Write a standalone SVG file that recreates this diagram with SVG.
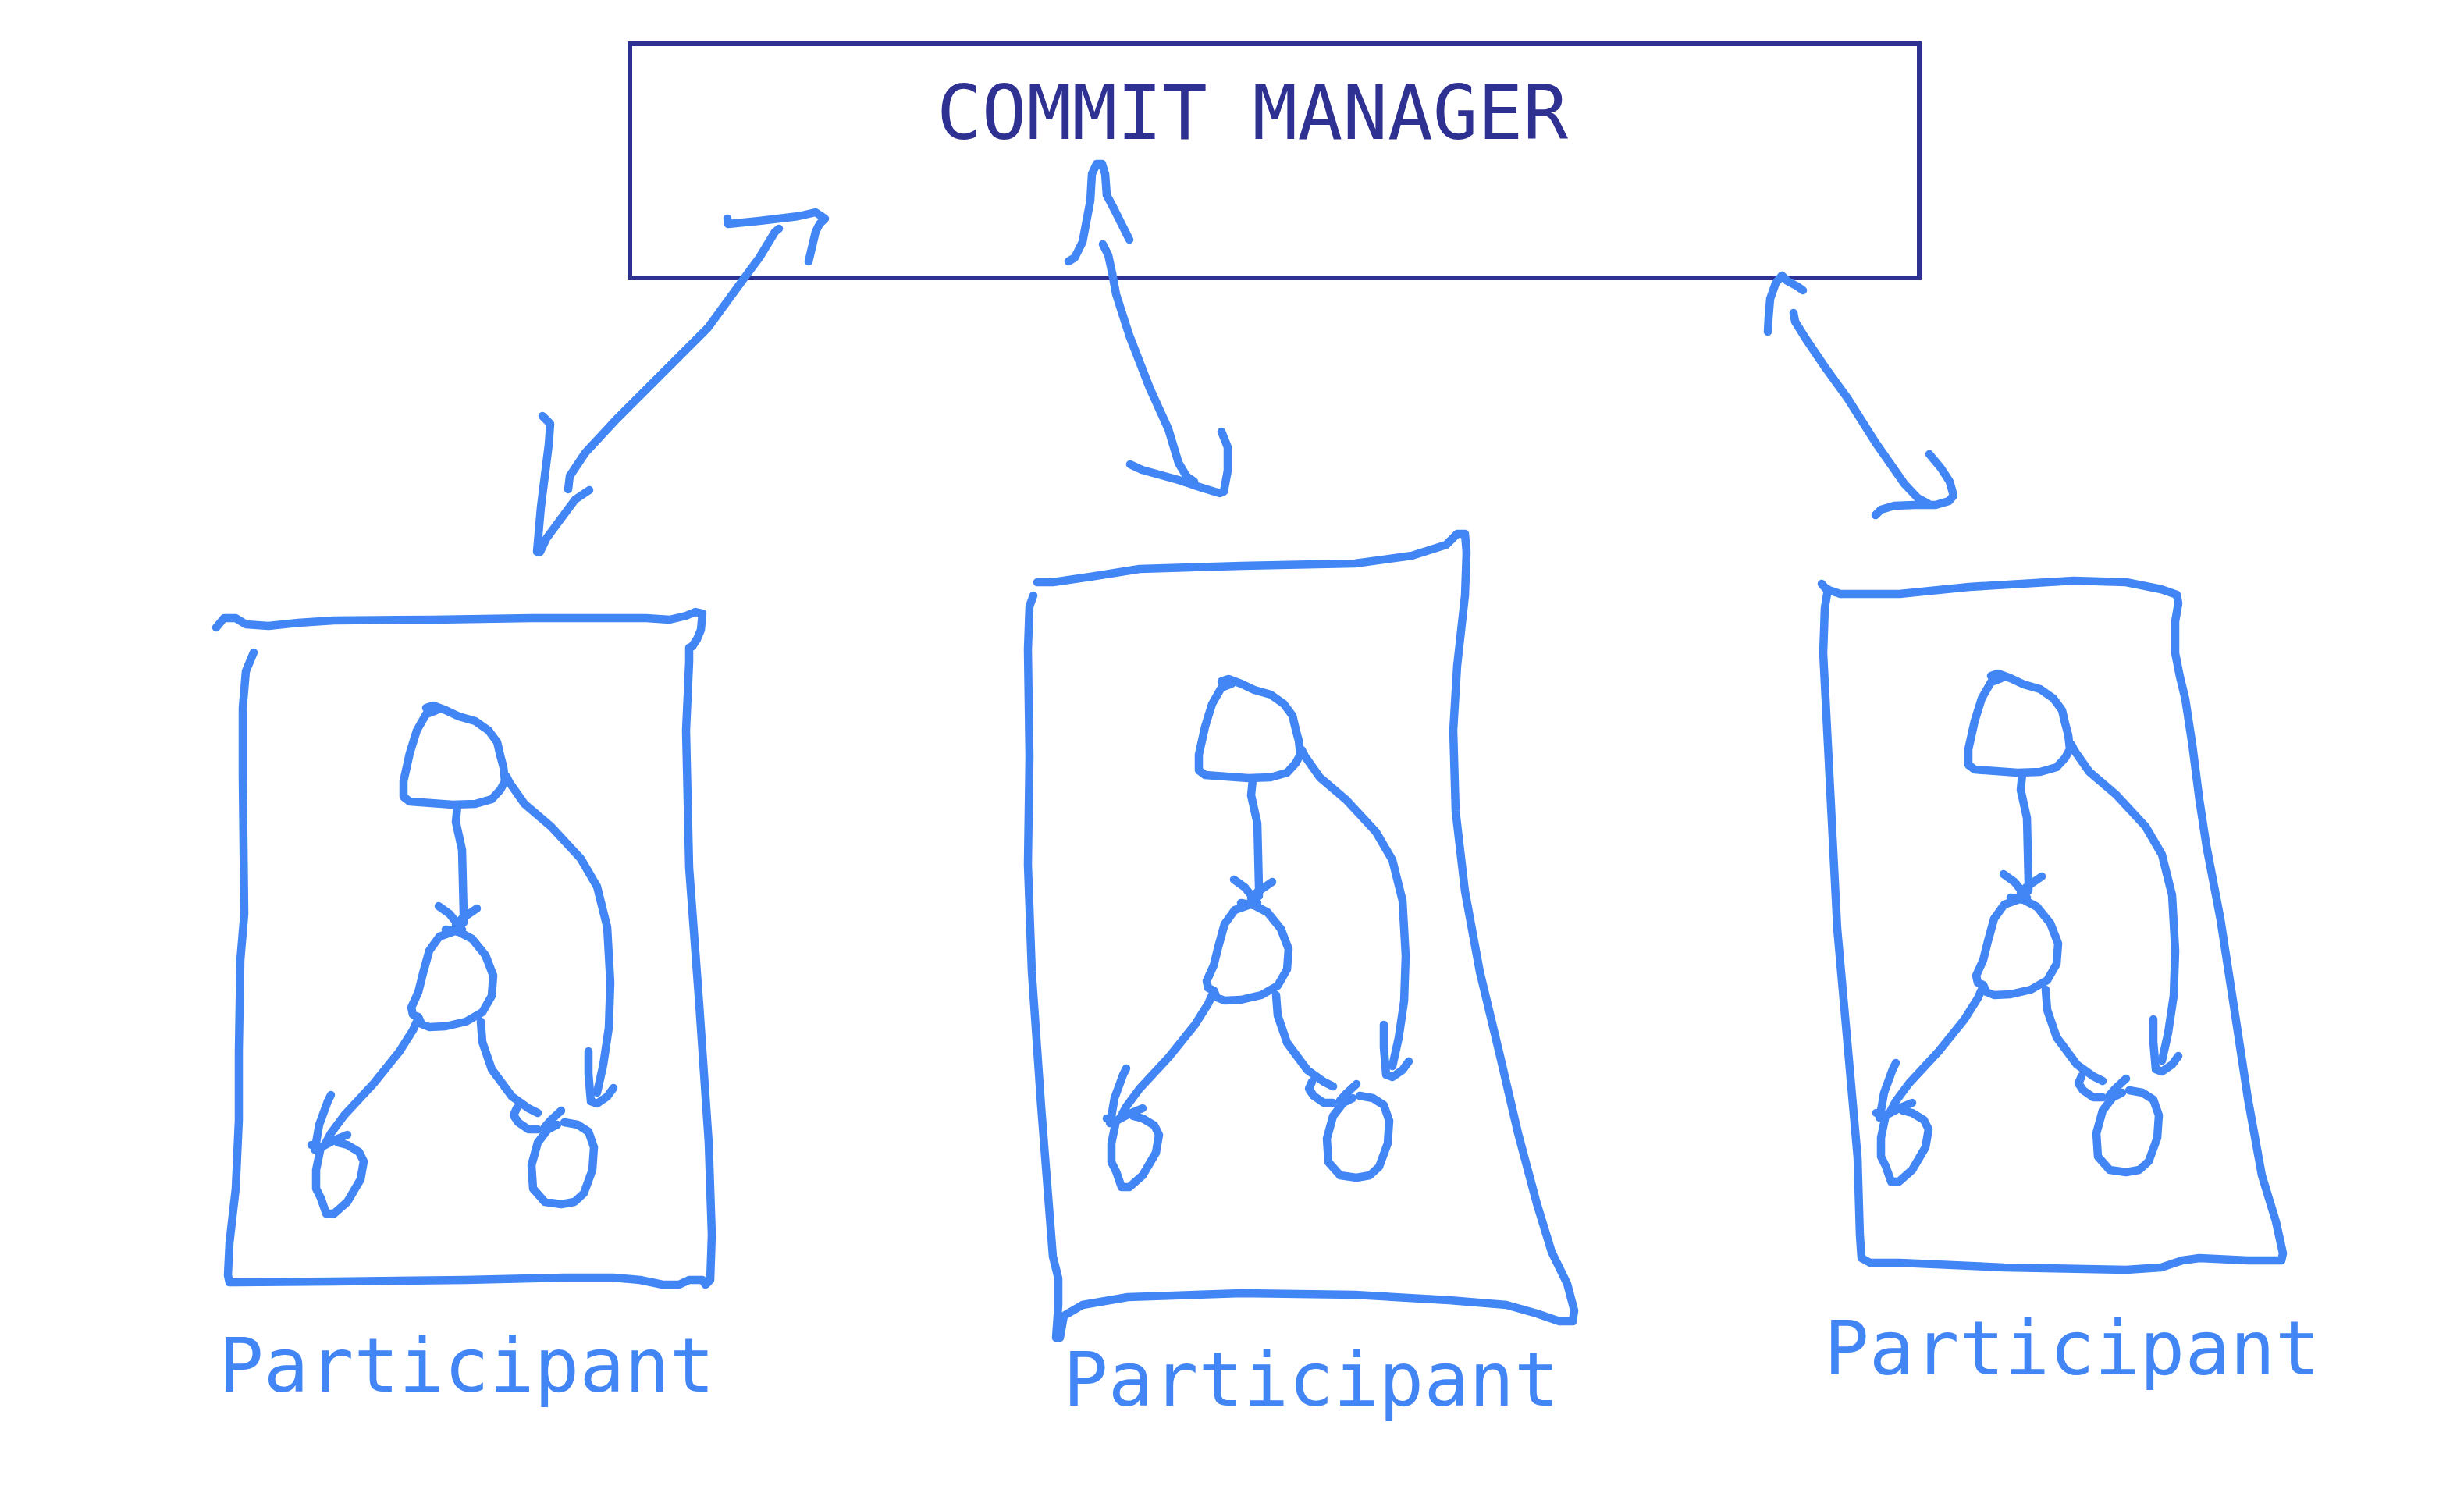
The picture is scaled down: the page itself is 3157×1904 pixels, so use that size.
<svg xmlns="http://www.w3.org/2000/svg" xmlns:xlink="http://www.w3.org/1999/xlink" width="3157" height="1904" viewBox="0 0 3157 1904">
<style>
.s{fill:none;stroke:#4285f4;stroke-width:10.5;stroke-linecap:round;stroke-linejoin:round}
.cm{fill:#ffffff;stroke:#2e3192;stroke-width:6}
.t1{font-family:"DejaVu Sans Mono",monospace;font-size:96px;fill:#2e3192}
.t2{font-family:"DejaVu Sans Mono",monospace;font-size:96px;fill:#4285f4}
</style>
<defs>
<g id="graph">
<path class="s" d="M546,907 L555,904 L571,910 L588,918 L609,924 L626,936 L637,951 L641,968 L645,983 L647,1001 L641,1012 L630,1024 L609,1030 L580,1031 L525,1027 L517,1021 L517,1001 L525,965 L534,936 L546,915 L559,910"/>
<path class="s" d="M586,1033 L584,1053 L592,1089 L594,1171 L594,1182"/>
<path class="s" d="M562,1161 L576,1171 L592,1191 M611,1164 L592,1177 L584,1185"/>
<path class="s" d="M571,1191 L588,1194 L605,1203 L622,1224 L632,1250 L630,1276 L618,1297 L597,1309 L571,1315 L550,1316 L540,1312 L536,1303 L529,1300 L527,1291 L536,1271 L542,1247 L550,1218 L563,1200 L580,1194"/>
<path class="s" d="M534,1309 L529,1320 L512,1347 L479,1388 L441,1429 L424,1452 L416,1467"/>
<path class="s" d="M424,1403 L420,1411 L409,1441 L405,1464 L403,1473 M399,1467 L411,1470 L428,1461 L445,1454"/>
<path class="s" d="M411,1470 L405,1499 L405,1523 L411,1535 L418,1555 L428,1555 L445,1540 L462,1511 L466,1488 L460,1476 L445,1467 L433,1464"/>
<path class="s" d="M616,1309 L618,1335 L630,1370 L656,1405 L677,1420 L689,1426"/>
<path class="s" d="M662,1420 L658,1429 L664,1438 L677,1447 L689,1447 M719,1423 L706,1435 L698,1444"/>
<path class="s" d="M714,1441 L702,1447 L689,1464 L681,1493 L683,1523 L698,1540 L719,1543 L736,1540 L748,1529 L759,1499 L761,1470 L754,1450 L740,1441 L723,1438"/>
<path class="s" d="M649,995 L653,1003 L672,1030 L706,1059 L744,1100 L765,1136 L778,1188 L782,1259 L780,1317 L773,1364 L765,1400"/>
<path class="s" d="M754,1347 L754,1376 L757,1411 L765,1414 L778,1405 L786,1394"/>
</g>
</defs>
<g id="commit-manager">
<rect class="cm" x="807" y="56" width="1652" height="300"/>
<text class="t1" x="1200" y="178">COMMIT MANAGER</text>
</g>
<g id="participant-1">
<path class="s" d="M277,804 L287,792 L302,792 L315,800 L344,802 L382,798 L428,795 L555,794 L681,792 L828,792 L858,794 L879,789 L891,784 L900,786 L898,807 L893,819 L887,828"/>
<path class="s" d="M325,836 L315,860 L311,907 L311,995 L313,1171 L308,1230 L306,1347 L306,1435 L302,1523 L294,1593 L292,1634 L294,1643 L302,1643 L428,1642 L597,1640 L723,1637 L786,1637 L820,1640 L849,1646 L870,1646 L883,1640 L900,1640 L904,1646 L910,1640 L912,1582 L908,1464 L896,1288 L883,1112 L879,936 L883,848 L883,830 L887,828"/>
<use xlink:href="#graph"/>
<text class="t2" x="280" y="1783">Participant</text>
</g>
<g id="participant-2">
<path class="s" d="M1329,746 L1349,746 L1397,739 L1460,729 L1591,725 L1736,722 L1809,712 L1853,698 L1867,684 L1877,684 L1879,708 L1877,763 L1867,853 L1862,936 L1865,1039 L1877,1142 L1896,1245 L1921,1349 L1945,1452 L1969,1542 L1988,1604 L2008,1645 L2017,1679 L2015,1693 L1998,1693 L1969,1683 L1930,1672 L1857,1666 L1736,1659 L1591,1657 L1445,1662 L1387,1672 L1363,1686 L1358,1714"/>
<path class="s" d="M1324,763 L1319,777 L1317,832 L1319,970 L1317,1108 L1322,1245 L1334,1418 L1349,1610 L1356,1638 L1356,1672 L1353,1714"/>
<use xlink:href="#graph" transform="translate(1019,-34)"/>
<text class="t2" x="1362" y="1801">Participant</text>
</g>
<g id="participant-3">
<path class="s" d="M2334,748 L2340,755 L2358,761 L2434,761 L2523,752 L2657,744 L2724,746 L2769,755 L2789,762 L2791,773 L2787,796 L2787,837 L2793,867 L2800,896 L2809,955 L2818,1025 L2827,1084 L2845,1178 L2863,1295 L2880,1407 L2898,1506 L2916,1565 L2925,1606 L2923,1615 L2880,1615 L2818,1612 L2796,1615 L2769,1624 L2724,1627 L2568,1624 L2434,1618 L2396,1618 L2385,1612 L2383,1583 L2380,1483 L2367,1336 L2354,1190 L2345,1013 L2336,837 L2338,779 L2342,755"/>
<use xlink:href="#graph" transform="translate(2005,-41)"/>
<text class="t2" x="2337" y="1761">Participant</text>
</g>
<g id="connectors">
<path class="s" d="M932,280 L933,287 L973,283 L1023,277 L1045,272 L1057,280 L1050,287 L1045,297 L1036,335"/>
<path class="s" d="M998,293 L993,297 L973,330 L953,357 L907,420 L857,470 L790,537 L750,580 L730,610 L728,627"/>
<path class="s" d="M695,533 L705,543 L703,570 L693,650 L688,707 L692,707 L700,690 L717,667 L737,640 L755,628"/>
<path class="s" d="M1369,335 L1377,330 L1387,310 L1397,257 L1399,223 L1405,210 L1412,210 L1416,223 L1418,250 L1427,267 L1447,307"/>
<path class="s" d="M1413,313 L1420,327 L1425,350 L1430,377 L1447,430 L1473,497 L1497,550 L1510,593 L1520,610 L1530,617"/>
<path class="s" d="M1448,595 L1463,602 L1510,615 L1540,625 L1563,632 L1568,630 L1573,603 L1573,573 L1567,558 L1565,553"/>
<path class="s" d="M2265,425 L2266,407 L2268,383 L2275,363 L2283,353 L2290,360 L2303,367 L2310,372"/>
<path class="s" d="M2298,401 L2300,412 L2313,433 L2338,470 L2367,510 L2403,567 L2440,620 L2457,638 L2470,645"/>
<path class="s" d="M2403,660 L2410,653 L2427,648 L2453,647 L2480,647 L2497,642 L2503,635 L2498,617 L2487,600 L2477,588 L2472,582"/>
</g>
</svg>
